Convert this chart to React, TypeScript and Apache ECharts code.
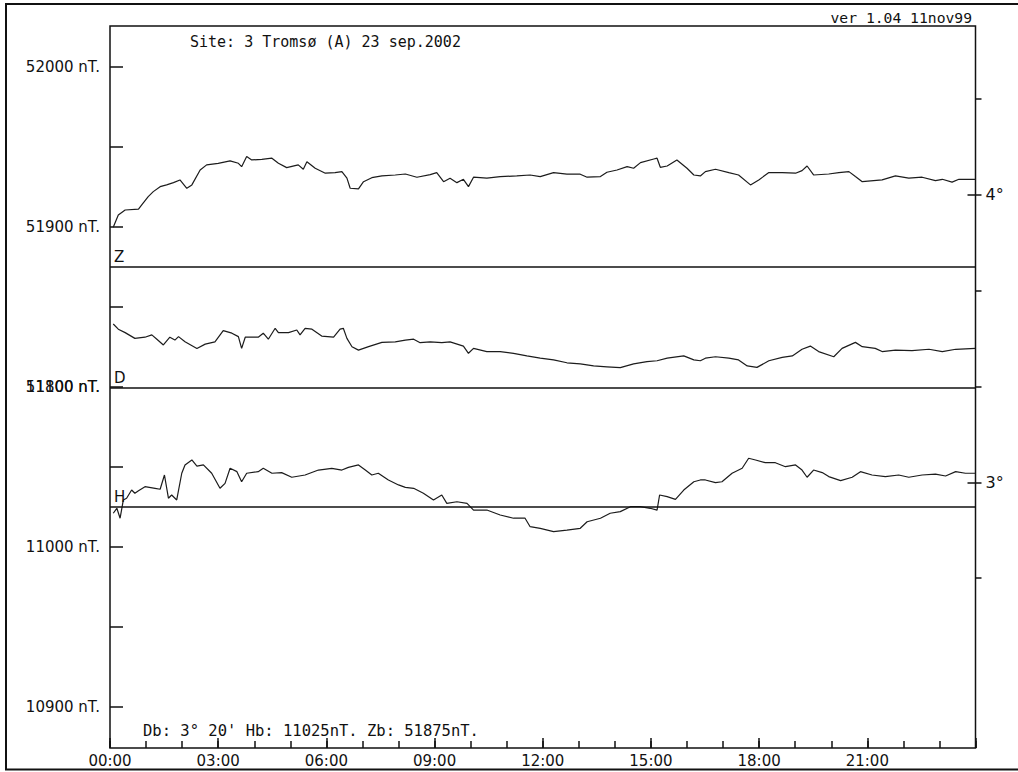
import React, { useEffect, useRef } from "react";
import * as echarts from "echarts";

// ---- data ----
const zTime = [0.09,0.23,0.42,0.79,0.88,1.06,1.20,1.39,1.57,1.76,
  1.94,2.13,2.27,2.50,2.68,3.00,3.33,3.56,3.65,3.79,
  3.93,4.21,4.49,4.67,4.90,5.22,5.36,5.46,5.69,5.97,
  6.24,6.43,6.57,6.66,6.89,7.03,7.26,7.54,7.91,8.19,
  8.51,8.88,9.06,9.25,9.43,9.62,9.80,9.94,10.08,10.45,
  10.82,11.28,11.65,11.93,12.30,12.67,13.04,13.23,13.60,13.78,
  14.06,14.34,14.52,14.71,15.08,15.17,15.26,15.45,15.72,16.00,
  16.19,16.37,16.51,16.79,17.16,17.43,17.76,17.99,18.27,18.64,
  19.01,19.19,19.33,19.51,19.93,20.21,20.49,20.67,20.86,21.41,
  21.78,22.15,22.52,22.89,23.08,23.35,23.54,24.00];
const zValue = [51899.6,51907.3,51910.4,51910.9,51913.6,51918.8,51921.9,51925.0,51926.1,51927.5,
  51929.2,51924.0,51926.1,51935.4,51938.6,51939.6,51941.1,51939.6,51937.5,51943.8,
  51941.7,51942.1,51942.8,51939.6,51936.9,51938.6,51935.9,51940.6,51936.5,51933.4,
  51933.8,51934.4,51930.3,51924.0,51923.6,51928.1,51930.6,51931.7,51932.3,51932.9,
  51930.9,51932.5,51933.8,51928.1,51930.3,51927.5,51929.6,51925.0,51930.9,51930.3,
  51931.3,51931.7,51932.3,51931.3,51933.8,51932.8,51932.8,51930.9,51931.3,51934.0,
  51935.4,51937.5,51936.5,51940.0,51942.3,51942.8,51937.1,51937.9,51941.7,51936.5,
  51932.3,51931.7,51934.4,51935.9,51933.8,51932.3,51926.1,51929.2,51933.8,51933.8,
  51933.4,51935.0,51937.9,51932.3,51932.9,51933.8,51934.4,51931.3,51928.1,51929.2,
  51931.7,51930.3,51930.9,51928.8,51929.6,51927.8,51929.6,51929.6];

const dTime = [0.09,0.23,0.42,0.69,0.97,1.16,1.30,1.48,1.66,1.80,
  1.90,2.08,2.41,2.64,2.91,3.14,3.38,3.56,3.65,3.75,
  4.11,4.25,4.39,4.58,4.67,4.95,5.18,5.27,5.41,5.60,
  5.87,6.20,6.38,6.47,6.57,6.71,6.89,7.17,7.54,7.91,
  8.19,8.42,8.60,8.88,9.20,9.43,9.80,9.94,10.08,10.45,
  10.82,11.19,11.56,11.93,12.30,12.67,13.04,13.41,13.78,14.15,
  14.52,14.89,15.17,15.45,15.91,16.19,16.37,16.51,16.79,17.16,
  17.43,17.67,17.94,18.27,18.64,18.92,19.19,19.42,19.65,20.07,
  20.30,20.67,20.86,21.22,21.41,21.78,22.24,22.71,23.08,23.45,
  24.00];
const dValue = [3.551,3.533,3.521,3.501,3.505,3.513,3.498,3.478,3.505,3.495,
  3.507,3.489,3.466,3.481,3.489,3.528,3.519,3.507,3.466,3.505,
  3.505,3.519,3.498,3.536,3.521,3.521,3.530,3.513,3.536,3.533,
  3.509,3.505,3.533,3.536,3.501,3.472,3.460,3.472,3.487,3.489,
  3.495,3.498,3.486,3.489,3.486,3.489,3.474,3.449,3.466,3.455,
  3.455,3.449,3.440,3.432,3.426,3.416,3.412,3.405,3.402,3.399,
  3.412,3.420,3.423,3.432,3.440,3.426,3.423,3.432,3.437,3.432,
  3.426,3.405,3.400,3.423,3.435,3.440,3.463,3.474,3.455,3.437,
  3.466,3.487,3.472,3.466,3.455,3.460,3.458,3.463,3.455,3.463,
  3.466];

const hTime = [0.09,0.19,0.28,0.37,0.46,0.60,0.69,0.79,0.97,1.25,
  1.39,1.51,1.62,1.71,1.85,1.99,2.08,2.27,2.41,2.59,
  2.82,3.05,3.19,3.33,3.52,3.65,3.79,4.11,4.25,4.49,
  4.76,5.04,5.41,5.78,6.15,6.43,6.61,6.89,7.08,7.26,
  7.44,7.72,8.00,8.19,8.42,8.69,8.97,9.20,9.34,9.62,
  9.90,10.08,10.45,10.82,11.19,11.51,11.65,11.93,12.30,12.67,
  13.04,13.23,13.60,13.87,14.15,14.43,14.71,14.98,15.17,15.24,
  15.45,15.68,15.91,16.19,16.37,16.51,16.79,16.97,17.25,17.53,
  17.71,17.90,18.17,18.45,18.73,19.01,19.19,19.33,19.51,19.75,
  19.93,20.26,20.58,20.81,21.13,21.50,21.87,22.15,22.52,22.89,
  23.17,23.45,23.72,24.00];
const hValue = [11020.9,11024.0,11017.8,11029.2,11030.3,11035.4,11033.4,11035.0,11037.5,11036.5,
  11035.9,11044.8,11030.3,11032.3,11029.2,11045.9,11051.1,11054.2,11050.4,11051.1,
  11045.9,11036.5,11039.6,11049.0,11046.9,11040.6,11045.9,11046.9,11049.0,11045.9,
  11046.3,11043.4,11044.8,11047.9,11049.0,11047.9,11049.6,11051.1,11047.9,11044.8,
  11045.9,11041.7,11038.6,11037.1,11036.5,11033.4,11029.2,11032.3,11027.1,11028.1,
  11027.1,11022.9,11022.9,11019.8,11017.8,11017.8,11012.5,11011.5,11009.4,11010.4,
  11011.5,11015.6,11017.8,11020.9,11021.9,11025.0,11025.0,11024.0,11022.9,11032.3,
  11031.3,11029.6,11035.4,11040.6,11041.7,11041.7,11040.0,11040.6,11045.9,11049.0,
  11055.3,11054.2,11052.5,11052.5,11050.0,11051.1,11047.9,11043.4,11047.9,11046.3,
  11043.8,11041.3,11043.4,11046.9,11044.8,11043.8,11044.8,11043.4,11044.8,11045.4,
  11044.2,11046.9,11045.9,11045.9];

// axis ticks and labels
const zTickValues = [51600, 51650, 51700, 51750, 51800, 51850, 51900, 51950, 52000];
const zLabelValues = [51800, 51900, 52000];
const hLabelValues = [10900, 11000, 11100];
const dTickValues = [2 + 2 / 3, 3, 3 + 1 / 3, 3 + 2 / 3, 4, 4 + 1 / 3];
const dLabelValues = [3, 4];
const hourLabelValues = [0, 3, 6, 9, 12, 15, 18, 21];

// baselines
const zBase = 51875;
const hBase = 11025;
const dBase = 3 + 20 / 60;

// axis ranges
const zMin = 51574.2;
const zMax = 52025.4;
const hOffset = 40700;
const dMin = 2.0752;
const dMax = 4.5882;

const titleText = "Site: 3 Tromsø (A) 23 sep.2002";
const versionText = "ver 1.04 11nov99";
const baseText = "Db: 3° 20' Hb: 11025nT. Zb: 51875nT.";

const INK = "#111";

export default function App() {
  const ref = useRef<HTMLDivElement>(null);
  useEffect(() => {
    if (!ref.current) return;
    const chart = echarts.init(ref.current, undefined, { renderer: "svg" });
    const pad = (v: number) => (v < 10 ? "0" + v : "" + v);
    const lineStyle = { color: "#1c1c1c", width: 1.2 };
    const baseLine = (label: string) => ({
      silent: true,
      symbol: "none",
      lineStyle: { color: INK, type: "solid", width: 1.5 },
      label: {
        show: true,
        position: "insideStartTop",
        formatter: label,
        color: INK,
        fontFamily: "DejaVu Sans",
        fontSize: 15,
        distance: [4, 2],
      },
      emphasis: { disabled: true },
    });
    const option: any = {
      animation: false,
      backgroundColor: "#fff",
      grid: {
        left: 110,
        right: 42.5,
        top: 26,
        bottom: 24,
        show: true,
        borderColor: INK,
        borderWidth: 1.5,
        containLabel: false,
        outerBoundsMode: "none",
      },
      xAxis: [
        {
          type: "value",
          min: 0,
          max: 24,
          interval: 1,
          position: "bottom",
          axisLine: { show: false },
          splitLine: { show: false },
          axisTick: { inside: true, length: 7, lineStyle: { color: INK, width: 1.5 } },
          axisLabel: {
            customValues: hourLabelValues,
            formatter: (v: number) => pad(v) + ":00",
            color: INK,
            fontFamily: "DejaVu Sans",
            fontSize: 15,
            margin: 5,
          },
        },
        {
          type: "value",
          min: 0,
          max: 24,
          interval: 3,
          position: "bottom",
          axisLine: { show: false },
          splitLine: { show: false },
          axisTick: { inside: true, length: 10, lineStyle: { color: INK, width: 1.5 } },
          axisLabel: { show: false },
        },
      ],
      yAxis: [
        {
          type: "value",
          min: zMin,
          max: zMax,
          position: "left",
          axisLine: { show: false },
          splitLine: { show: false },
          axisTick: {
            show: true,
            inside: true,
            length: 13,
            customValues: zTickValues,
            lineStyle: { color: INK, width: 1.5 },
          },
          axisLabel: {
            customValues: zLabelValues,
            formatter: (v: number) => v + " nT.",
            color: INK,
            fontFamily: "DejaVu Sans",
            fontSize: 15,
            margin: 10,
          },
        },
        {
          type: "value",
          min: zMin - hOffset,
          max: zMax - hOffset,
          position: "left",
          axisLine: { show: false },
          splitLine: { show: false },
          axisTick: { show: false },
          axisLabel: {
            customValues: hLabelValues,
            formatter: (v: number) => v + " nT.",
            color: INK,
            fontFamily: "DejaVu Sans",
            fontSize: 15,
            margin: 10,
          },
        },
        {
          type: "value",
          min: dMin,
          max: dMax,
          position: "right",
          axisLine: { show: false },
          splitLine: { show: false },
          axisTick: {
            show: true,
            inside: false,
            length: 6,
            customValues: dTickValues,
            lineStyle: { color: INK, width: 1.5 },
          },
          axisLabel: {
            customValues: dLabelValues,
            formatter: (v: number) => Math.round(v) + "°",
            color: INK,
            fontFamily: "DejaVu Sans",
            fontSize: 16,
            margin: 10,
          },
        },
        {
          type: "value",
          min: dMin,
          max: dMax,
          position: "right",
          axisLine: { show: false },
          splitLine: { show: false },
          axisTick: {
            show: true,
            inside: true,
            length: 8,
            customValues: dLabelValues,
            lineStyle: { color: INK, width: 1.5 },
          },
          axisLabel: { show: false },
        },
      ],
      series: [
        {
          name: "Z",
          type: "line",
          xAxisIndex: 0,
          yAxisIndex: 0,
          showSymbol: false,
          silent: true,
          lineStyle,
          data: zTime.map((t, i) => [t, zValue[i]]),
          markLine: { ...baseLine("Z"), data: [{ yAxis: zBase }] },
        },
        {
          name: "D",
          type: "line",
          xAxisIndex: 0,
          yAxisIndex: 2,
          showSymbol: false,
          silent: true,
          lineStyle,
          data: dTime.map((t, i) => [t, dValue[i]]),
          markLine: { ...baseLine("D"), data: [{ yAxis: dBase }] },
        },
        {
          name: "H",
          type: "line",
          xAxisIndex: 0,
          yAxisIndex: 1,
          showSymbol: false,
          silent: true,
          lineStyle,
          data: hTime.map((t, i) => [t, hValue[i]]),
          markLine: { ...baseLine("H"), data: [{ yAxis: hBase }] },
        },
      ],
      graphic: [
        {
          type: "polyline",
          silent: true,
          z: 10,
          shape: { points: [[1018, 4], [6, 4], [6, 769.5], [1018, 769.5]] },
          style: { stroke: INK, lineWidth: 2, fill: null },
        },
        {
          type: "text",
          x: 190,
          y: 42,
          silent: true,
          style: {
            text: titleText,
            fontFamily: "DejaVu Sans Mono",
            fontSize: 15,
            fill: INK,
            align: "left",
            verticalAlign: "middle",
          },
        },
        {
          type: "text",
          x: 972,
          y: 17,
          silent: true,
          style: {
            text: versionText,
            fontFamily: "DejaVu Sans Mono",
            fontSize: 14.7,
            fill: INK,
            align: "right",
            verticalAlign: "middle",
          },
        },
        {
          type: "text",
          x: 143,
          y: 731,
          silent: true,
          style: {
            text: baseText,
            fontFamily: "DejaVu Sans Mono",
            fontSize: 15.5,
            fill: INK,
            align: "left",
            verticalAlign: "middle",
          },
        },
      ],
    };
    chart.setOption(option);
    return () => chart.dispose();
  }, []);
  return (
    <div
      ref={ref}
      style={{ position: "absolute", left: 0, top: 0, width: 1018, height: 772, background: "#fff" }}
    />
  );
}
